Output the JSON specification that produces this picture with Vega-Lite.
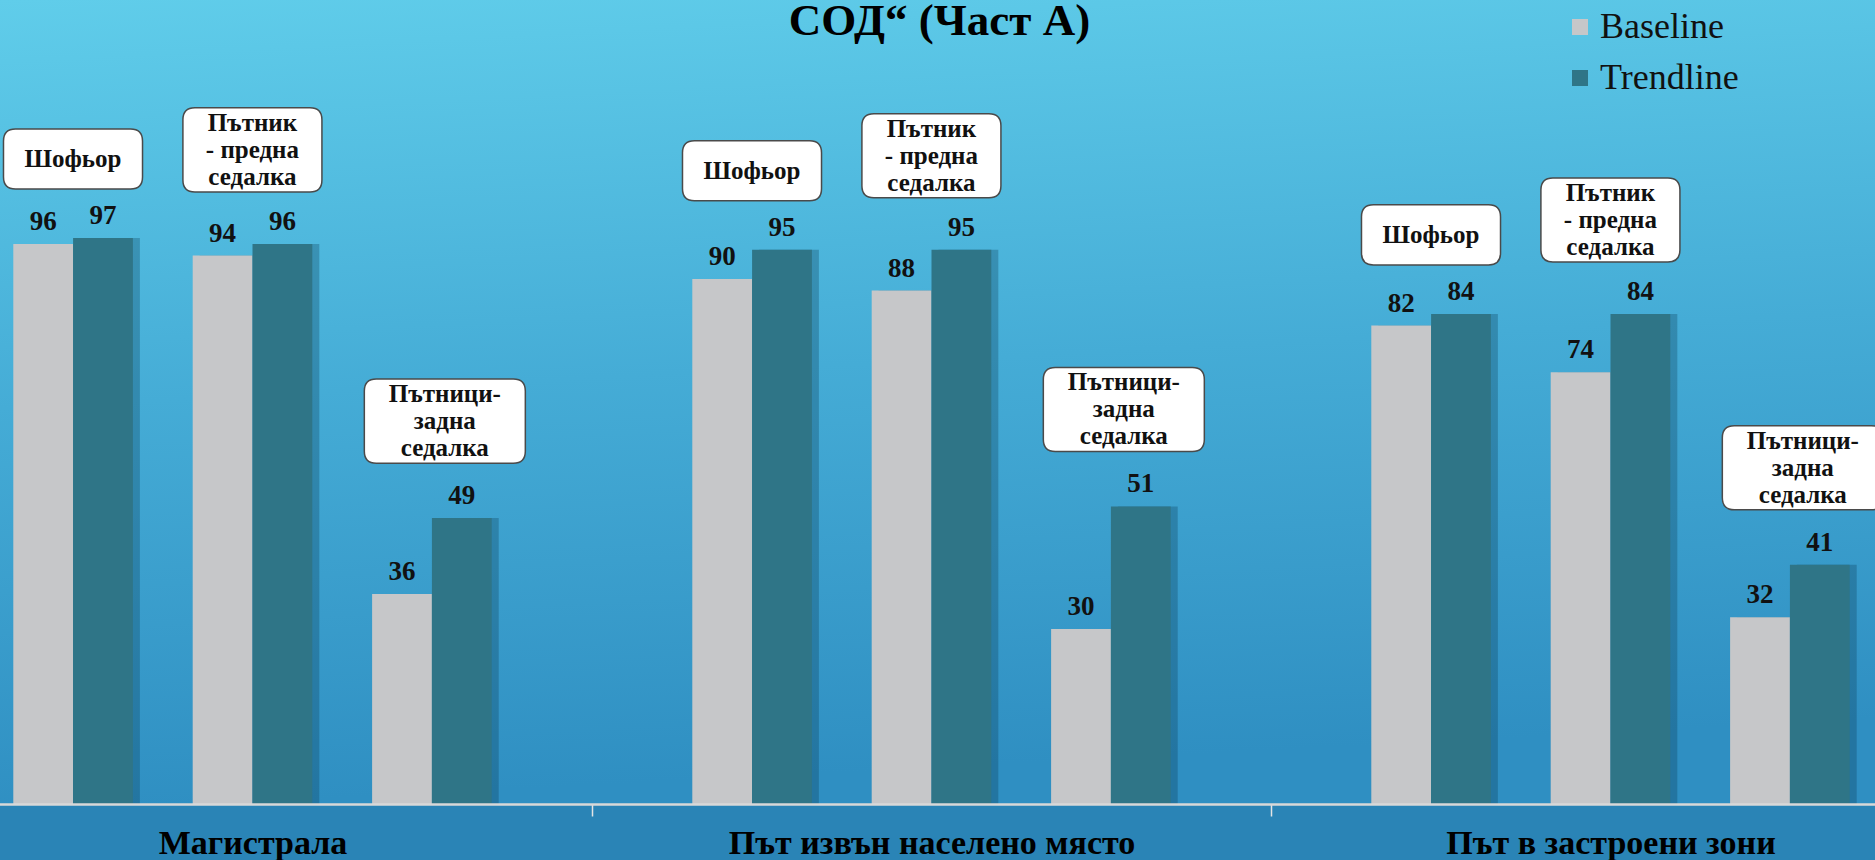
{
  "$schema": "https://vega.github.io/schema/vega-lite/v6.json",
  "width": 1875,
  "height": 804,
  "autosize": {"type": "none"},
  "padding": {"top": 0, "left": 0, "right": 0, "bottom": 56},
  "background": "#2a84b6",
  "title": {
    "text": "СОД“ (Част А)",
    "font": "Liberation Serif",
    "fontSize": 45,
    "fontWeight": "bold",
    "color": "#000000",
    "anchor": "middle",
    "baseline": "alphabetic",
    "offset": 0,
    "dy": 80,
    "dx": 2
  },
  "config": {
    "view": {
      "stroke": null,
      "fill": {
        "gradient": "linear",
        "x1": 0, "y1": 0, "x2": 0.12, "y2": 1,
        "stops": [
          {"offset": 0, "color": "#60cdea"},
          {"offset": 0.5, "color": "#45acd6"},
          {"offset": 1, "color": "#2f8fc2"}
        ]
      }
    }
  },
  "resolve": {"scale": {"xOffset": "independent"}},
  "data": {
    "values": [
      {"cat": "Магистрала", "seat": "Шофьор", "series": "Baseline", "value": 96},
      {"cat": "Магистрала", "seat": "Шофьор", "series": "Trendline", "value": 97},
      {"cat": "Магистрала", "seat": "Пътник - предна седалка", "series": "Baseline", "value": 94},
      {"cat": "Магистрала", "seat": "Пътник - предна седалка", "series": "Trendline", "value": 96},
      {"cat": "Магистрала", "seat": "Пътници-задна седалка", "series": "Baseline", "value": 36},
      {"cat": "Магистрала", "seat": "Пътници-задна седалка", "series": "Trendline", "value": 49},
      {"cat": "Път извън населено място", "seat": "Шофьор", "series": "Baseline", "value": 90},
      {"cat": "Път извън населено място", "seat": "Шофьор", "series": "Trendline", "value": 95},
      {"cat": "Път извън населено място", "seat": "Пътник - предна седалка", "series": "Baseline", "value": 88},
      {"cat": "Път извън населено място", "seat": "Пътник - предна седалка", "series": "Trendline", "value": 95},
      {"cat": "Път извън населено място", "seat": "Пътници-задна седалка", "series": "Baseline", "value": 30},
      {"cat": "Път извън населено място", "seat": "Пътници-задна седалка", "series": "Trendline", "value": 51},
      {"cat": "Път в застроени зони", "seat": "Шофьор", "series": "Baseline", "value": 82},
      {"cat": "Път в застроени зони", "seat": "Шофьор", "series": "Trendline", "value": 84},
      {"cat": "Път в застроени зони", "seat": "Пътник - предна седалка", "series": "Baseline", "value": 74},
      {"cat": "Път в застроени зони", "seat": "Пътник - предна седалка", "series": "Trendline", "value": 84},
      {"cat": "Път в застроени зони", "seat": "Пътници-задна седалка", "series": "Baseline", "value": 32},
      {"cat": "Път в застроени зони", "seat": "Пътници-задна седалка", "series": "Trendline", "value": 41}
    ]
  },
  "transform": [
    {"calculate": "datum.seat + '|' + datum.series", "as": "slot"}
  ],
  "encoding": {
    "x": {
      "field": "cat",
      "type": "nominal",
      "sort": ["Магистрала", "Път извън населено място", "Път в застроени зони"],
      "scale": {"type": "band", "range": [-87, 1950], "paddingInner": 0, "paddingOuter": 0},
      "axis": {
        "title": null,
        "labelAngle": 0,
        "labelFont": "Liberation Serif",
        "labelFontWeight": "bold",
        "labelFontSize": 34,
        "labelColor": "#000000",
        "labelBaseline": "alphabetic",
        "labelPadding": 37,
        "labelOverlap": false,
        "labelLimit": 0,
        "domainColor": "#d8d8d8",
        "domainWidth": 2.5,
        "tickColor": "#e4e4e4",
        "tickWidth": 1.5,
        "tickSize": 12,
        "tickBand": "extent",
        "grid": false,
        "zindex": 1
      }
    },
    "xOffset": {
      "field": "slot",
      "type": "nominal",
      "scale": {
        "type": "band",
        "domain": [
          "edge0",
          "Шофьор|Baseline", "Шофьор|Trendline", "gap1",
          "Пътник - предна седалка|Baseline", "Пътник - предна седалка|Trendline", "gap2",
          "Пътници-задна седалка|Baseline", "Пътници-задна седалка|Trendline",
          "edge9"
        ],
        "range": [0, 679],
        "paddingInner": 0,
        "paddingOuter": 0.677
      }
    },
    "y": {
      "field": "value",
      "type": "quantitative",
      "scale": {"domain": [0, 137.8], "nice": false, "zero": true},
      "axis": null
    }
  },
  "layer": [
    {
      "mark": {"type": "bar", "fill": "#0b3b55", "opacity": 0.3},
      "encoding": {
        "xOffset": {
          "field": "slot",
          "type": "nominal",
          "scale": {
            "type": "band",
            "domain": [
              "edge0",
              "Шофьор|Baseline", "Шофьор|Trendline", "gap1",
              "Пътник - предна седалка|Baseline", "Пътник - предна седалка|Trendline", "gap2",
              "Пътници-задна седалка|Baseline", "Пътници-задна седалка|Trendline",
              "edge9"
            ],
            "range": [7, 686],
            "paddingInner": 0,
            "paddingOuter": 0.677
          }
        }
      }
    },
    {
      "mark": {"type": "bar"},
      "encoding": {
        "color": {
          "field": "series",
          "type": "nominal",
          "scale": {"domain": ["Baseline", "Trendline"], "range": ["#c6c7c9", "#2f7587"]},
          "legend": {
            "orient": "none",
            "legendX": 1562,
            "legendY": 9,
            "title": null,
            "symbolType": "square",
            "symbolSize": 256,
            "symbolStrokeWidth": 0,
            "labelFont": "Liberation Serif",
            "labelFontSize": 36,
            "labelColor": "#111111",
            "rowPadding": 15,
            "labelOffset": 2,
            "padding": 0
          }
        }
      }
    },
    {
      "mark": {"type": "text", "font": "Liberation Serif", "fontWeight": "bold", "fontSize": 27, "color": "#111111", "baseline": "alphabetic", "dy": -14},
      "encoding": {"text": {"field": "value", "type": "quantitative"}}
    },
    {
      "transform": [{"filter": "datum.series == 'Trendline' && datum.seat == 'Шофьор'"}],
      "layer": [
        {
          "mark": {"type": "point", "filled": true, "fill": "#ffffff", "fillOpacity": 1, "opacity": 1, "stroke": "#4a4a4a", "strokeWidth": 1.5, "size": 25921, "yOffset": -79,
            "shape": "M-1.087,-0.373L0.342,-0.373Q0.491,-0.373,0.491,-0.224L0.491,0.224Q0.491,0.373,0.342,0.373L-1.087,0.373Q-1.236,0.373,-1.236,0.224L-1.236,-0.224Q-1.236,-0.373,-1.087,-0.373Z"},
          "encoding": {}
        },
        {
          "mark": {"type": "text", "font": "Liberation Serif", "fontWeight": "bold", "fontSize": 25, "color": "#111111", "baseline": "middle", "dx": -30, "yOffset": -79},
          "encoding": {"text": {"value": "Шофьор"}}
        }
      ]
    },
    {
      "transform": [{"filter": "datum.series == 'Trendline' && datum.seat == 'Пътник - предна седалка'"}],
      "layer": [
        {
          "mark": {"type": "point", "filled": true, "fill": "#ffffff", "fillOpacity": 1, "opacity": 1, "stroke": "#4a4a4a", "strokeWidth": 1.5, "size": 25921, "yOffset": -94,
            "shape": "M-1.087,-0.522L0.342,-0.522Q0.491,-0.522,0.491,-0.373L0.491,0.373Q0.491,0.522,0.342,0.522L-1.087,0.522Q-1.236,0.522,-1.236,0.373L-1.236,-0.373Q-1.236,-0.522,-1.087,-0.522Z"},
          "encoding": {}
        },
        {
          "mark": {"type": "text", "font": "Liberation Serif", "fontWeight": "bold", "fontSize": 25, "color": "#111111", "baseline": "middle", "lineHeight": 27, "lineBreak": "\n", "dx": -30, "yOffset": -121},
          "encoding": {"text": {"value": "Пътник\n- предна\nседалка"}}
        }
      ]
    },
    {
      "transform": [{"filter": "datum.series == 'Trendline' && datum.seat == 'Пътници-задна седалка'"}],
      "layer": [
        {
          "mark": {"type": "point", "filled": true, "fill": "#ffffff", "fillOpacity": 1, "opacity": 1, "stroke": "#4a4a4a", "strokeWidth": 1.5, "size": 25921, "yOffset": -97,
            "shape": "M-1.062,-0.522L0.64,-0.522Q0.789,-0.522,0.789,-0.373L0.789,0.373Q0.789,0.522,0.64,0.522L-1.062,0.522Q-1.211,0.522,-1.211,0.373L-1.211,-0.373Q-1.211,-0.522,-1.062,-0.522Z"},
          "encoding": {}
        },
        {
          "mark": {"type": "text", "font": "Liberation Serif", "fontWeight": "bold", "fontSize": 25, "color": "#111111", "baseline": "middle", "lineHeight": 27, "lineBreak": "\n", "dx": -17, "yOffset": -124},
          "encoding": {"text": {"value": "Пътници-\nзадна\nседалка"}}
        }
      ]
    }
  ]
}
